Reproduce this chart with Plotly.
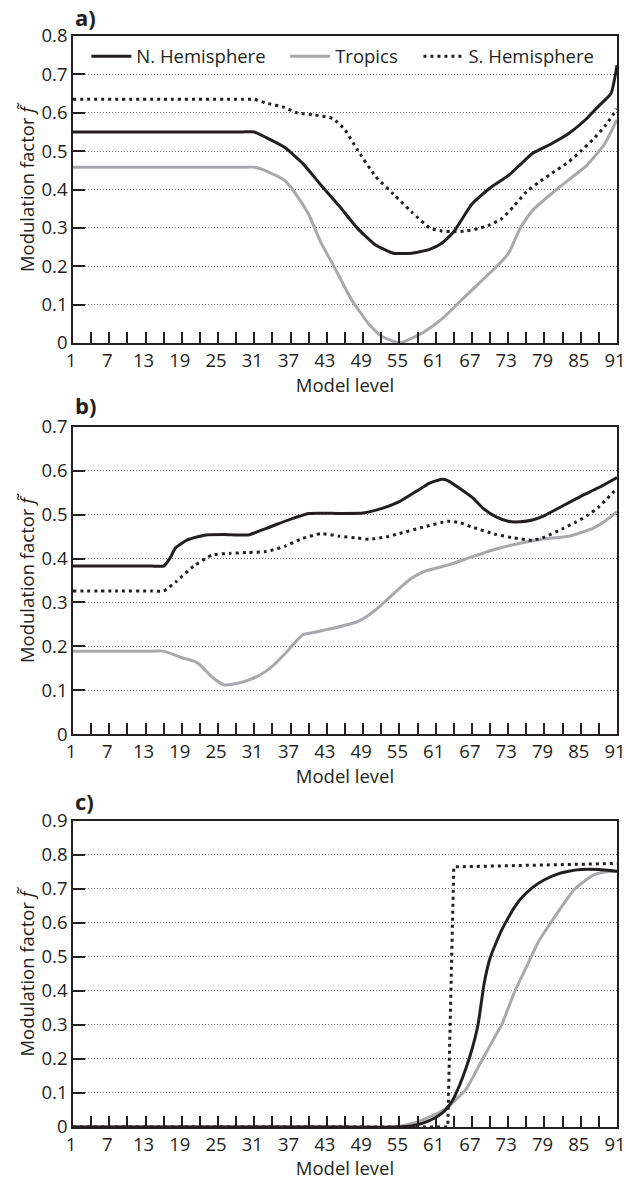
import plotly.graph_objects as go
from plotly.subplots import make_subplots

# ---- panel a) ----
a_nh_lev = [1, 16, 29, 31, 33, 36, 39, 42, 45, 48, 51, 54, 57, 60, 62, 64, 67, 70, 73, 75, 77, 80, 83, 86, 88, 90, 91]
a_nh_val = [0.550, 0.550, 0.550, 0.550, 0.535, 0.510, 0.468, 0.412, 0.358, 0.300, 0.256, 0.234, 0.234, 0.244,
            0.260, 0.290, 0.362, 0.404, 0.436, 0.465, 0.494, 0.518, 0.546, 0.585, 0.618, 0.650, 0.724]

a_tr_lev = [1, 16, 29, 31, 33, 36, 38, 40, 42, 44, 47, 50, 52, 55, 57, 59, 62, 65, 68, 71, 73, 75, 77, 80, 83,
            86, 89, 91]
a_tr_val = [0.458, 0.458, 0.458, 0.458, 0.448, 0.424, 0.385, 0.335, 0.262, 0.205, 0.115, 0.048, 0.018, 0.000,
            0.012, 0.028, 0.062, 0.108, 0.153, 0.198, 0.232, 0.300, 0.345, 0.387, 0.425, 0.463, 0.520, 0.582]

a_sh_lev = [1, 16, 29, 31, 33, 36, 38, 41, 44, 46, 48, 51, 54, 57, 60, 62, 64, 66, 68, 70, 72, 74, 76, 78, 80,
            83, 85, 87, 89, 91]
a_sh_val = [0.635, 0.635, 0.635, 0.635, 0.625, 0.614, 0.600, 0.594, 0.585, 0.555, 0.505, 0.435, 0.388, 0.342,
            0.300, 0.292, 0.290, 0.292, 0.298, 0.308, 0.325, 0.358, 0.394, 0.418, 0.440, 0.472, 0.500, 0.530,
            0.565, 0.610]

# ---- panel b) ----
b_nh_lev = [1, 8, 14, 16, 17, 18, 20, 23, 26, 30, 33, 37, 40, 45, 49, 52, 55, 58, 60, 62, 63, 65, 67, 69, 71,
            73, 75, 77, 79, 82, 85, 88, 91]
b_nh_val = [0.383, 0.383, 0.383, 0.383, 0.400, 0.425, 0.443, 0.454, 0.455, 0.454, 0.469, 0.490, 0.503, 0.503,
            0.504, 0.514, 0.530, 0.555, 0.572, 0.581, 0.578, 0.560, 0.540, 0.513, 0.495, 0.485, 0.484, 0.488,
            0.498, 0.520, 0.542, 0.562, 0.585]

b_tr_lev = [1, 8, 14, 16, 19, 21, 22, 24, 26, 28, 30, 32, 34, 36, 39, 41, 44, 48, 50, 52, 55, 57, 59, 63, 67,
            71, 76, 79, 83, 87, 89, 91]
b_tr_val = [0.189, 0.189, 0.189, 0.189, 0.174, 0.166, 0.158, 0.130, 0.112, 0.115, 0.123, 0.135, 0.155, 0.182,
            0.226, 0.232, 0.241, 0.256, 0.272, 0.294, 0.332, 0.355, 0.370, 0.385, 0.404, 0.422, 0.438, 0.445,
            0.451, 0.469, 0.485, 0.507]

b_sh_lev = [1, 8, 14, 16, 18, 21, 24, 27, 30, 33, 36, 39, 42, 45, 48, 50, 53, 55, 59, 63, 65, 67, 71, 74, 77,
            79, 82, 84, 86, 88, 91]
b_sh_val = [0.326, 0.326, 0.326, 0.326, 0.347, 0.383, 0.408, 0.412, 0.414, 0.416, 0.428, 0.446, 0.457, 0.451,
            0.447, 0.444, 0.450, 0.457, 0.472, 0.485, 0.482, 0.472, 0.455, 0.447, 0.442, 0.449, 0.468, 0.482,
            0.497, 0.518, 0.560]

# ---- panel c) ----
c_nh_lev = [1, 20, 40, 55, 57, 59, 61, 62, 63, 64, 65, 66, 67, 68, 69, 70, 71, 72, 73, 74, 75, 77, 79, 81, 83,
            85, 88, 91]
c_nh_val = [0.0, 0.0, 0.0, 0.0, 0.003, 0.012, 0.028, 0.040, 0.058, 0.085, 0.125, 0.172, 0.228, 0.300, 0.420,
            0.497, 0.542, 0.582, 0.615, 0.645, 0.670, 0.704, 0.727, 0.743, 0.752, 0.757, 0.757, 0.752]

c_tr_lev = [1, 20, 40, 54, 56, 58, 60, 62, 63, 64, 66, 68, 70, 72, 74, 76, 78, 80, 82, 84, 87, 89, 91]
c_tr_val = [0.0, 0.0, 0.0, 0.0, 0.005, 0.015, 0.030, 0.046, 0.058, 0.075, 0.110, 0.175, 0.240, 0.304, 0.395,
            0.470, 0.545, 0.600, 0.652, 0.700, 0.740, 0.750, 0.752]

c_sh_lev = [1, 63, 64, 91]
c_sh_val = [0.0, 0.0, 0.765, 0.775]

series_names = ["N. Hemisphere", "Tropics", "S. Hemisphere"]
x_ticks = list(range(1, 92, 3))
x_ticktext = [str(v) if (v - 1) % 6 == 0 else "" for v in x_ticks]

BLACK = "#231f20"
GREY = "#a7a9ac"
FONT = "Open Sans"
SMOOTH = 0.5

fig = make_subplots(rows=3, cols=1)

panels = [
    (1, (a_nh_lev, a_nh_val), (a_tr_lev, a_tr_val), (a_sh_lev, a_sh_val)),
    (2, (b_nh_lev, b_nh_val), (b_tr_lev, b_tr_val), (b_sh_lev, b_sh_val)),
    (3, (c_nh_lev, c_nh_val), (c_tr_lev, c_tr_val), (c_sh_lev, c_sh_val)),
]

for row, nh, tr, sh in panels:
    first = row == 1
    fig.add_trace(go.Scatter(
        x=tr[0], y=tr[1], mode="lines", name=series_names[1],
        line=dict(color=GREY, width=3, shape="spline", smoothing=SMOOTH),
        showlegend=first, legend="legend2"), row=row, col=1)
    fig.add_trace(go.Scatter(
        x=nh[0], y=nh[1], mode="lines", name=series_names[0],
        line=dict(color=BLACK, width=3, shape="spline", smoothing=SMOOTH),
        showlegend=first, legend="legend"), row=row, col=1)
    sh_shape = "linear" if row == 3 else "spline"
    fig.add_trace(go.Scatter(
        x=sh[0], y=sh[1], mode="lines", name=series_names[2],
        line=dict(color=BLACK, width=3, dash="3px,4px", shape=sh_shape, smoothing=SMOOTH),
        showlegend=first, legend="legend3"), row=row, col=1)

y_ranges = {1: 0.8, 2: 0.7, 3: 0.9}
y_domains = {1: [0.7186, 1.0], 2: [0.3602, 0.6416], 3: [0.0, 0.2805]}

for row in (1, 2, 3):
    fig.update_xaxes(
        row=row, col=1, range=[1, 91], domain=[0, 1], automargin=False,
        tickmode="array", tickvals=x_ticks, ticktext=x_ticktext,
        ticks="inside", ticklen=11, tickwidth=1.5, tickcolor=BLACK,
        ticklabeloverflow="allow", ticklabelshift=-2,
        showline=True, mirror=True, linecolor=BLACK, linewidth=1.5,
        showgrid=False, zeroline=False,
        title=dict(text="Model level", standoff=4, font=dict(size=18.5, color=BLACK)),
        tickfont=dict(size=18.5, color=BLACK),
    )
    top = y_ranges[row]
    fig.update_yaxes(
        row=row, col=1, range=[0, top], domain=y_domains[row], automargin=False,
        tickmode="linear", tick0=0, dtick=0.1, tickformat=".1~f",
        ticks="inside", ticklen=12, tickwidth=1.5, tickcolor=BLACK,
        showline=True, mirror=True, linecolor=BLACK, linewidth=1.5,
        showgrid=True, gridcolor="#6d6e71", gridwidth=1, griddash="1px,2px",
        zeroline=False,
        title=dict(text="Modulation factor <i>f\u0303</i>", standoff=2,
                   font=dict(size=18.5, color=BLACK)),
        tickfont=dict(size=18.5, color=BLACK),
    )

legend_common = dict(orientation="h", xanchor="left", yanchor="middle",
                     bgcolor="rgba(0,0,0,0)", font=dict(size=18.5, color=BLACK, family=FONT),
                     itemwidth=40)
fig.update_layout(
    legend=dict(x=0.0245, y=0.981, **legend_common),
    legend2=dict(x=0.39, y=0.981, **legend_common),
    legend3=dict(x=0.635, y=0.981, **legend_common),
)

for label, ypos in (("a)", 1.017), ("b)", 0.6618), ("c)", 0.2988)):
    fig.add_annotation(text="<b>%s</b>" % label, xref="paper", yref="paper",
                       x=0.0, y=ypos, xanchor="left", yanchor="middle", showarrow=False,
                       font=dict(size=22, color=BLACK, family=FONT))

fig.update_layout(
    width=626, height=1180,
    margin=dict(l=73, r=9, t=36, b=53, autoexpand=False),
    paper_bgcolor="white", plot_bgcolor="white",
    font=dict(family=FONT, color=BLACK, size=18.5),
)

fig.write_html("out.html")
